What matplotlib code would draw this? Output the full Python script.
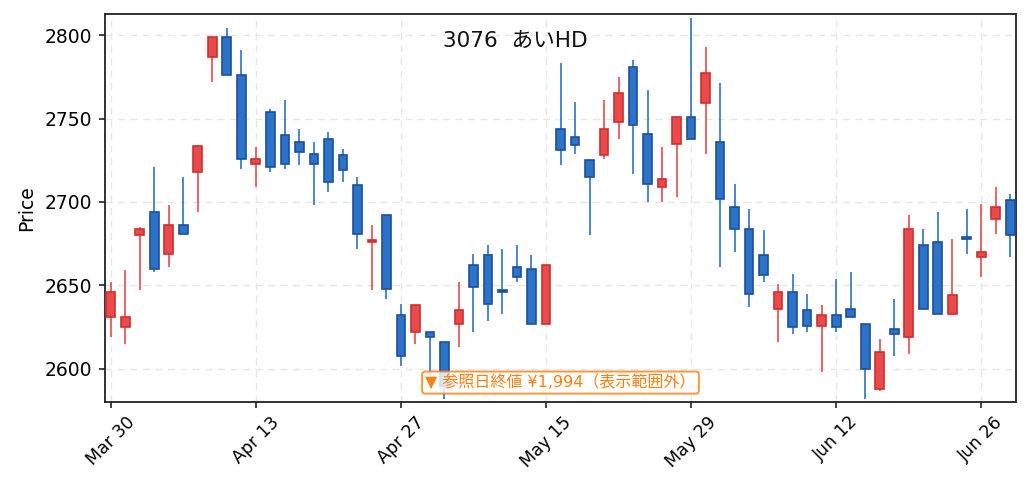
import matplotlib
matplotlib.use("Agg")
import matplotlib.pyplot as plt
import pandas as pd
from matplotlib.patches import Rectangle

plt.rcParams['font.family'] = ['DejaVu Sans', 'Noto Sans CJK JP']

title = "3076  あいHD"
note = "▼ 参照日終値 ¥1,994（表示範囲外）"

holidays = ["2020-04-29", "2020-05-04", "2020-05-05", "2020-05-06"]
dates = [d for d in pd.bdate_range("2020-03-30", "2020-06-30")
         if d.strftime("%Y-%m-%d") not in holidays]

opens = [2631, 2625, 2680, 2694, 2669, 2686, 2718, 2787, 2799, 2776,
         2723, 2754, 2740, 2736, 2729, 2738, 2728, 2710, 2676, 2692,
         2632, 2622, 2622, 2616, 2627, 2662, 2668, 2647, 2661, 2660,
         2627, 2744, 2739, 2725, 2728, 2748, 2781, 2741, 2709, 2735,
         2751, 2759, 2736, 2697, 2684, 2668, 2636, 2646, 2635, 2626,
         2632, 2636, 2627, 2588, 2624, 2619, 2674, 2676, 2633, 2679,
         2667, 2690, 2701]
highs = [2652, 2659, 2685, 2721, 2698, 2715, 2734, 2799, 2804, 2791,
         2733, 2756, 2761, 2744, 2736, 2742, 2732, 2715, 2686, 2692,
         2639, 2638, 2622, 2616, 2652, 2669, 2674, 2672, 2674, 2668,
         2662, 2783, 2760, 2725, 2761, 2775, 2785, 2767, 2733, 2751,
         2810, 2793, 2771, 2711, 2696, 2683, 2651, 2657, 2645, 2638,
         2654, 2658, 2627, 2618, 2642, 2692, 2684, 2694, 2678, 2696,
         2699, 2709, 2705]
lows = [2619, 2615, 2647, 2658, 2661, 2681, 2694, 2772, 2776, 2720,
        2709, 2718, 2720, 2722, 2698, 2706, 2712, 2672, 2647, 2642,
        2602, 2615, 2596, 2582, 2613, 2622, 2629, 2633, 2652, 2627,
        2627, 2722, 2729, 2680, 2726, 2738, 2717, 2700, 2700, 2703,
        2738, 2729, 2661, 2670, 2637, 2652, 2616, 2621, 2622, 2598,
        2622, 2631, 2582, 2587, 2608, 2609, 2636, 2633, 2633, 2669,
        2655, 2681, 2667]
closes = [2646, 2631, 2684, 2660, 2686, 2681, 2733.5, 2799, 2776, 2726,
          2726, 2721, 2723, 2730, 2723, 2712, 2719, 2681, 2677, 2648,
          2608, 2638, 2619, 2590, 2635, 2649, 2639, 2646, 2655, 2627,
          2662, 2731, 2734, 2715, 2744, 2765, 2746, 2711, 2714, 2751,
          2738, 2777, 2702, 2684, 2645, 2656, 2646, 2625, 2626, 2632,
          2625, 2631, 2600, 2610, 2621, 2684, 2636, 2633, 2644, 2678,
          2670, 2697, 2680]

up_fill, up_edge = "#e84b4b", "#cf2f2f"
dn_fill, dn_edge = "#2c72c7", "#1b50a0"

fig = plt.figure(figsize=(10.31, 4.92), dpi=100)
ax = fig.add_axes([0.1018, 0.183, 0.8837, 0.7885])

width = 0.6
for i, (o, h, l, c) in enumerate(zip(opens, highs, lows, closes)):
    up = c >= o
    fill = up_fill if up else dn_fill
    edge = up_edge if up else dn_edge
    ax.vlines(i, l, h, color=fill, linewidth=1.2, zorder=2)
    lo_b, hi_b = min(o, c), max(o, c)
    ax.add_patch(Rectangle((i - width / 2, lo_b), width, max(hi_b - lo_b, 0.3),
                           facecolor=fill, edgecolor=edge, linewidth=1.2, zorder=3))

ax.set_xlim(-0.4, 62.4)
ax.set_ylim(2580.2, 2812.6)
ax.set_yticks([2600, 2650, 2700, 2750, 2800])
tick_idx = list(range(0, len(dates), 10))
ax.set_xticks(tick_idx)
ax.set_xticklabels([dates[i].strftime("%b %d") for i in tick_idx],
                   rotation=45, ha="center", fontsize=12.5)
ax.tick_params(axis="y", labelsize=13.5, pad=5)
ax.tick_params(axis="both", direction="out", length=4.5, width=1.2, color="#222222")
ax.set_ylabel("Price", fontsize=13.5, labelpad=6)
ax.grid(True, linestyle=(0, (5, 4)), color="#e6e6e6", linewidth=1.0, zorder=0)
ax.set_axisbelow(True)
for s in ax.spines.values():
    s.set_linewidth(1.3)
    s.set_color("#222222")

fig.text(0.5, 0.904, title, ha="center", va="baseline",
         fontsize=15.6, color="#111111", zorder=5)
ax.text(0.5, 0.050, note, transform=ax.transAxes, ha="center", va="center",
        fontsize=11.5, color="#ff7f0e", zorder=6,
        bbox=dict(boxstyle="round,pad=0.2", facecolor="white", alpha=0.82,
                  edgecolor="#ff7f0e", linewidth=1.4))

fig.savefig("out.png", dpi=100)
